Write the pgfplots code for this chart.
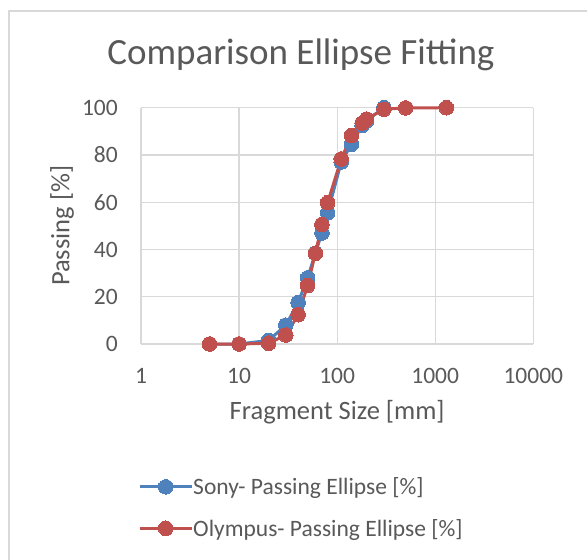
\documentclass[border=0pt]{standalone}
\usepackage{pgfplots}
\pgfplotsset{compat=1.18}
\usepackage{fontspec}
\setmainfont{Carlito}

\definecolor{sonyblue}{HTML}{4F81BD}
\definecolor{olyred}{HTML}{C0504D}
\definecolor{gridgray}{HTML}{D9D9D9}
\definecolor{txtgray}{HTML}{595959}

\newcommand{\ticksize}{\fontsize{23.5}{28}\selectfont}
\newcommand{\labelsize}{\fontsize{26.5}{31}\selectfont}
\newcommand{\titlesize}{\fontsize{37}{44}\selectfont}

\begin{document}
\begin{tikzpicture}
% chart area: axis box corner at the origin
\useasboundingbox (-141pt,-216pt) rectangle (446pt,344pt);
\fill[white] (-141pt,-216pt) rectangle (446pt,344pt);
\draw[gridgray, line width=1.2pt] (-132pt,-216pt) -- (-132pt,333pt) -- (446pt,333pt);
\node[txtgray, font=\titlesize, anchor=center] at (160pt,289pt) {Comparison Ellipse Fitting};

\begin{axis}[
  at={(0pt,0pt)}, anchor=south west,
  scale only axis,
  width=392.3pt, height=236.3pt,
  xmode=log,
  xmin=1, xmax=10000,
  ymin=0, ymax=100,
  xtick={1,10,100,1000,10000},
  xticklabels={1,10,100,1000,10000},
  ytick={0,20,40,60,80,100},
  xminorticks=false, yminorticks=false,
  major tick length=0pt,
  minor tick length=0pt,
  grid=major,
  major grid style={gridgray, line width=1.2pt},
  axis line style={draw=none},
  tick label style={txtgray, font=\ticksize},
  /pgf/number format/assume math mode=true,
  xticklabel style={anchor=center, yshift=-31.5pt},
  yticklabel style={anchor=east, inner sep=0pt, xshift=-23pt},
  xlabel={Fragment Size [mm]},
  ylabel={Passing [\%]},
  label style={txtgray, font=\labelsize},
  xlabel style={at={(axis description cs:0.5,-0.29)}, anchor=center},
  ylabel style={at={(axis description cs:-0.201,0.5)}, anchor=center},
  clip=false,
  legend cell align=left,
  legend style={
    at={(axis description cs:-0.0076,-0.692)}, anchor=west,
    draw=none, fill=none, inner sep=0pt,
    font=\ticksize, text=txtgray,
    row sep=23pt,
    nodes={inner sep=0pt},
    /tikz/every even column/.append style={column sep=6pt},
  },
  legend image code/.code={
    \draw[mark repeat=2, mark phase=2]
      plot coordinates {(0pt,0pt) (26pt,0pt) (52pt,0pt)};
  },
]
% Sony camera, ellipse fitting
\addplot[sonyblue, line width=3pt, mark=*, mark size=7.3pt,
  mark options={fill=sonyblue, draw=sonyblue, line width=0pt}] coordinates {
  (5,0) (10,0) (20,1.5) (30,8) (40,17.5) (50,28) (60,38.5) (70,47)
  (80,55.5) (110,77) (140,84.5) (180,92.5) (200,94.5) (300,100)
};
\addlegendentry{Sony- Passing Ellipse [\%]}
% Olympus camera, ellipse fitting
\addplot[olyred, line width=3pt, mark=*, mark size=7.3pt,
  mark options={fill=olyred, draw=olyred, line width=0pt}] coordinates {
  (5,0) (10,0) (20,0.3) (30,3.8) (40,12.4) (50,24.7) (60,38.4) (70,50.6)
  (80,59.8) (110,78.3) (140,88.2) (180,93.5) (200,95.2) (300,99.4)
  (500,99.9) (1300,100)
};
\addlegendentry{Olympus- Passing Ellipse [\%]}
\end{axis}
\end{tikzpicture}
\end{document}
